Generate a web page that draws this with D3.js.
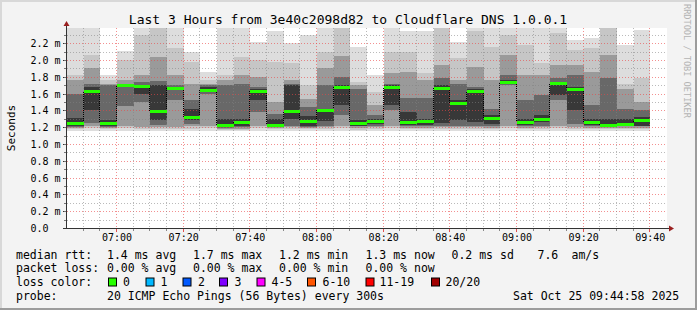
<!DOCTYPE html>
<html><head><meta charset="utf-8">
<script src="https://cdn.jsdelivr.net/npm/d3@7"></script>
<style>
html,body{margin:0;padding:0;background:#f3f3f3;}
svg{display:block;}
text{font-family:"DejaVu Sans Mono",monospace;fill:#000;}
</style>
</head><body>
<svg id="c" width="697" height="310"></svg>
<script>
// ---------- data ----------
const titleText = "Last 3 Hours from 3e40c2098d82 to Cloudflare DNS 1.0.0.1";
const firstBin = "06:45";
const lastTime = "09:45";
const stepMinutes = 5;
// median RTT per 5-minute bin (ms)
const medianMs = [1.25,1.63,1.25,1.70,1.69,1.39,1.67,1.325,1.645,1.23,1.26,1.63,1.23,1.39,1.275,1.41,1.68,1.25,
                  1.275,1.68,1.26,1.275,1.67,1.49,1.63,1.31,1.74,1.26,1.30,1.725,1.66,1.26,1.23,1.24,1.29];
// smoke layers (outer -> inner): top and bottom of each band (ms)
const smokeTop1 = [2.5,2.5,1.82,2.11,2.5,2.5,2.5,2.10,1.86,2.5,2.5,2.22,2.34,2.20,2.30,2.5,2.6,2.16,
                   1.82,2.5,2.34,2.35,2.6,2.22,2.6,2.5,2.6,2.5,2.5,2.6,2.24,2.26,2.6,2.18,2.36];
const smokeTop2 = [1.82,2.06,1.76,2.0,2.3,2.45,2.14,1.98,1.76,1.82,2.04,2.0,1.98,1.96,1.70,2.10,2.5,1.74,
                   1.62,2.1,2.10,1.84,2.5,2.02,2.35,2.16,2.3,2.18,1.96,2.32,2.12,2.14,2.45,1.72,1.78];
const smokeTop3 = [1.76,1.90,1.71,1.76,1.82,2.03,1.82,1.72,1.72,1.76,1.82,1.80,1.50,1.76,1.53,1.90,2.05,1.70,
                   1.46,1.84,1.86,1.76,1.94,1.76,1.92,1.76,2.06,1.82,1.82,1.94,1.94,1.86,2.06,1.66,1.50];
const smokeTop4 = [1.60,1.72,1.70,1.72,1.74,1.75,1.70,1.52,1.70,1.70,1.72,1.68,1.36,1.72,1.44,1.70,1.80,1.66,
                   1.34,1.72,1.55,1.55,1.78,1.72,1.68,1.42,1.82,1.52,1.58,1.78,1.82,1.46,1.78,1.42,1.40];
const smokeTop5 = [1.31,1.68,1.29,1.71,1.70,1.70,1.68,1.42,1.68,1.30,1.30,1.66,1.30,1.70,1.33,1.42,1.70,1.28,
                   1.30,1.70,1.38,1.30,1.70,1.52,1.66,1.34,1.76,1.30,1.34,1.74,1.68,1.30,1.30,1.30,1.32];
const smokeBottom5 = [1.22,1.40,1.22,1.69,1.60,1.28,1.64,1.28,1.62,1.20,1.22,1.52,1.21,1.30,1.22,1.27,1.46,1.22,
                      1.24,1.46,1.23,1.23,1.25,1.28,1.26,1.24,1.72,1.23,1.26,1.58,1.40,1.23,1.21,1.22,1.22];
const smokeBottom4 = [1.20,1.25,1.20,1.45,1.50,1.23,1.52,1.24,1.60,1.19,1.20,1.38,1.20,1.22,1.20,1.22,1.35,1.21,
                      1.22,1.40,1.21,1.21,1.22,1.22,1.22,1.21,1.70,1.21,1.22,1.52,1.24,1.21,1.20,1.21,1.21];
const smokeBottom3 = [1.19,1.22,1.19,1.22,1.20,1.20,1.20,1.21,1.22,1.18,1.18,1.22,1.19,1.20,1.19,1.20,1.22,1.19,
                      1.20,1.22,1.19,1.19,1.20,1.20,1.20,1.19,1.22,1.19,1.20,1.22,1.20,1.19,1.19,1.19,1.19];
const smokeBottom2 = [1.18,1.19,1.18,1.19,1.18,1.18,1.18,1.18,1.19,1.17,1.17,1.19,1.18,1.18,1.18,1.18,1.19,1.17,
                      1.18,1.19,1.18,1.18,1.18,1.18,1.18,1.18,1.19,1.18,1.18,1.19,1.18,1.18,1.18,1.18,1.18];
const smokeBottom1 = [1.15,1.16,1.16,1.16,1.16,1.15,1.16,1.16,1.15,1.15,1.15,1.16,1.16,1.16,1.16,1.16,1.16,1.15,
                      1.16,1.15,1.16,1.16,1.16,1.16,1.16,1.16,1.16,1.16,1.16,1.15,1.16,1.16,1.16,1.16,1.16];
const smokeColors = ["#dddddd","#c6c6c6","#9a9a9a","#686868","#383838"];
const yTickValues = [0,0.2,0.4,0.6,0.8,1.0,1.2,1.4,1.6,1.8,2.0,2.2];
const yTickLabels = ["0.0","0.2 m","0.4 m","0.6 m","0.8 m","1.0 m","1.2 m","1.4 m","1.6 m","1.8 m","2.0 m","2.2 m"];
const xTickLabels = ["07:00","07:20","07:40","08:00","08:20","08:40","09:00","09:20","09:40"];
const legendRtt = ["median rtt:","1.4 ms avg","1.7 ms max","1.2 ms min","1.3 ms now","0.2 ms sd","7.6","am/s"];
const legendLoss = ["packet loss:","0.00 % avg","0.00 % max","0.00 % min","0.00 % now"];
const lossLabels = ["0","1","2","3","4-5","6-10","11-19","20/20"];
const lossColors = ["#26ff00","#00b8ff","#0059ff","#7e00ff","#ff00ff","#ff5500","#ff0000","#a10000"];
const probeText = ["probe:","20 ICMP Echo Pings (56 Bytes) every 300s","Sat Oct 25 09:44:58 2025"];
const watermark = "RRDTOOL / TOBI OETIKER";

// ---------- layout ----------
const W = 697, H = 310;
const P = {l:67, r:667, t:28, b:228};
const parseT = d3.timeParse("%H:%M");
const t0 = parseT(firstBin), t1 = parseT(lastTime);
const x = d3.scaleTime().domain([t0,t1]).range([P.l,P.r]);
const y = d3.scaleLinear().domain([0,2.381]).range([P.b,P.t]);
const binStart = i => d3.timeMinute.offset(t0, stepMinutes*i);
const bx0 = i => Math.round(x(binStart(i)));
const bx1 = i => Math.round(x(binStart(i+1)));

const svg = d3.select("#c");
svg.append("rect").attr("width",W).attr("height",H).attr("fill","#f3f3f3");
// frame shading
svg.append("rect").attr("x",0).attr("y",0).attr("width",W).attr("height",2).attr("fill","#d8d8d8");
svg.append("rect").attr("x",0).attr("y",0).attr("width",2).attr("height",H).attr("fill","#d8d8d8");
svg.append("rect").attr("x",W-2).attr("y",0).attr("width",2).attr("height",H).attr("fill","#9c9c9c");
svg.append("rect").attr("x",0).attr("y",H-2).attr("width",W).attr("height",2).attr("fill","#9c9c9c");

// canvas
svg.append("rect").attr("x",P.l).attr("y",P.t).attr("width",P.r-P.l).attr("height",P.b-P.t).attr("fill","#fff");
svg.append("clipPath").attr("id","clip").append("rect")
  .attr("x",P.l).attr("y",P.t).attr("width",P.r-P.l).attr("height",P.b-P.t);

const g = svg.append("g").attr("clip-path","url(#clip)").attr("shape-rendering","crispEdges");
const layers = [
  {top:smokeTop1,bot:smokeBottom1},{top:smokeTop2,bot:smokeBottom2},{top:smokeTop3,bot:smokeBottom3},
  {top:smokeTop4,bot:smokeBottom4},{top:smokeTop5,bot:smokeBottom5}];
layers.forEach((L,li)=>{
  g.append("g").selectAll("rect").data(medianMs).join("rect")
    .attr("x",(d,i)=>bx0(i)).attr("width",(d,i)=>bx1(i)-bx0(i))
    .attr("y",(d,i)=>Math.round(y(L.top[i])))
    .attr("height",(d,i)=>Math.max(0,Math.round(y(L.bot[i]))-Math.round(y(L.top[i]))))
    .attr("fill",smokeColors[li]);
});

// grid
const grid = svg.append("g").attr("shape-rendering","crispEdges");
const minorY = d3.range(1,24).map(v=>v/10);
minorY.forEach(v=>{
  const major = Math.abs(v*5-Math.round(v*5))<1e-6;
  const yy = Math.round(y(v))+0.5;
  grid.append("line").attr("x1",P.l).attr("x2",P.r).attr("y1",yy).attr("y2",yy)
    .attr("stroke", major ? "rgba(235,70,70,0.6)" : "rgba(130,130,130,0.55)")
    .attr("stroke-dasharray","1,2");
});
const minorX = d3.timeMinute.every(5).range(d3.timeMinute.offset(t0,5), t1);
minorX.forEach(t=>{
  const major = t.getMinutes()%20===0;
  const xx = Math.round(x(t))-0.5;
  grid.append("line").attr("x1",xx).attr("x2",xx).attr("y1",P.t).attr("y2",P.b)
    .attr("stroke", major ? "rgba(235,70,70,0.6)" : "rgba(130,130,130,0.55)")
    .attr("stroke-dasharray","1,2");
});

// median step connections and lines
const med = svg.append("g").attr("shape-rendering","crispEdges");
for(let i=1;i<medianMs.length;i++){
  const xx = bx0(i)-0.5;
  med.append("line").attr("x1",xx).attr("x2",xx)
    .attr("y1",y(medianMs[i-1])).attr("y2",y(medianMs[i]))
    .attr("stroke","#000").attr("stroke-dasharray","1,1");
}
med.selectAll("rect.m").data(medianMs).join("rect").attr("class","m")
  .attr("x",(d,i)=>bx0(i)).attr("width",(d,i)=>bx1(i)-bx0(i))
  .attr("y",d=>Math.round(y(d))-1).attr("height",2.5).attr("fill",lossColors[0]);

// axes
const ax = svg.append("g").attr("shape-rendering","crispEdges");
ax.append("line").attr("x1",P.l-0.5).attr("x2",P.l-0.5).attr("y1",P.t-2).attr("y2",P.b+1).attr("stroke","#333");
ax.append("line").attr("x1",P.l-1).attr("x2",P.r+3).attr("y1",P.b+0.5).attr("y2",P.b+0.5).attr("stroke","#333");
svg.append("path").attr("d",`M${P.l-3.5},${P.t-2}L${P.l+2.5},${P.t-2}L${P.l-0.5},${P.t-7}Z`).attr("fill","#9a2020");
svg.append("path").attr("d",`M${P.r+2},${P.b-2.5}L${P.r+2},${P.b+3.5}L${P.r+7},${P.b+0.5}Z`).attr("fill","#9a2020");
yTickValues.forEach(v=>{
  const yy = Math.round(y(v))+0.5;
  ax.append("line").attr("x1",P.l-4).attr("x2",P.l-1).attr("y1",yy).attr("y2",yy).attr("stroke","#333");
});
minorY.forEach(v=>{
  const yy = Math.round(y(v))+0.5;
  ax.append("line").attr("x1",P.l-3).attr("x2",P.l-1).attr("y1",yy).attr("y2",yy).attr("stroke","#777");
});
minorX.forEach(t=>{
  const xx = Math.round(x(t))-0.5;
  const major = t.getMinutes()%20===0;
  ax.append("line").attr("x1",xx).attr("x2",xx).attr("y1",P.b+1).attr("y2",P.b+(major?4:3))
    .attr("stroke",major?"#e05050":"#888");
});

// y labels via d3 axis
const yAxis = d3.axisLeft(y).tickValues(yTickValues).tickSize(0)
  .tickFormat((d,i)=>yTickLabels[i]);
const yg = svg.append("g").attr("transform","translate(0,0)").call(yAxis);
yg.select(".domain").remove();
yg.selectAll("text").attr("x",30.5).attr("text-anchor","start").attr("dy",null)
  .attr("dominant-baseline","central").style("font-family",'"DejaVu Sans Mono",monospace')
  .style("font-size","10px").attr("fill","#000");

// x labels via d3 axis
const xTickTimes = xTickLabels.map(s=>parseT(s));
const xAxis = d3.axisBottom(x).tickValues(xTickTimes).tickSize(0).tickFormat((d,i)=>xTickLabels[i]);
const xg = svg.append("g").attr("transform",`translate(-0.5,0)`).call(xAxis);
xg.select(".domain").remove();
xg.selectAll("text").attr("y",237.5).attr("dy",null).attr("dominant-baseline","central")
  .style("font-family",'"DejaVu Sans Mono",monospace').style("font-size","10px").attr("fill","#000");

// title
svg.append("text").attr("x",348).attr("y",19.5).attr("text-anchor","middle")
  .attr("dominant-baseline","central").style("font-size","13px").text(titleText);
// y title
svg.append("text").attr("transform","translate(11,128) rotate(-90)").attr("text-anchor","middle")
  .attr("dominant-baseline","central").style("font-size","11px").text("Seconds");
// watermark
svg.append("text").attr("transform","translate(683.5,4) rotate(90)")
  .style("font-size","8.6px").style("fill","#b4b4b4").text(watermark);

// legend
const lg = svg.append("g").style("font-size","11.5px");
const rttX = [16,107,193,279,365.5,451.5,537.5,571.5];
legendRtt.forEach((s,i)=>lg.append("text").attr("x",rttX[i]).attr("y",254.5).attr("dominant-baseline","central").text(s));
const lossX = [16,107,193,279,365.5];
legendLoss.forEach((s,i)=>lg.append("text").attr("x",lossX[i]).attr("y",268).attr("dominant-baseline","central").text(s));
lg.append("text").attr("x",16).attr("y",282).attr("dominant-baseline","central").text("loss color:");
const boxX = [108.5,146,183,219.5,257,307.5,366,431.5];
const labX = [123,160.5,198,234.5,271.5,322.5,379.5,445.5];
lossLabels.forEach((s,i)=>{
  lg.append("rect").attr("x",boxX[i]).attr("y",278).attr("width",8).attr("height",8)
    .attr("fill",lossColors[i]).attr("stroke","#000").attr("stroke-width",1);
  lg.append("text").attr("x",labX[i]).attr("y",282).attr("dominant-baseline","central").text(s);
});
const probeX = [16,107,513];
probeText.forEach((s,i)=>lg.append("text").attr("x",probeX[i]).attr("y",296).attr("dominant-baseline","central").text(s));
</script>
</body></html>
